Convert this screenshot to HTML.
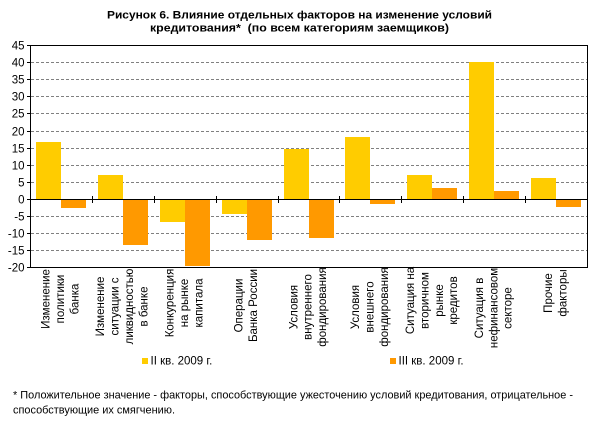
<!DOCTYPE html>
<html><head><meta charset="utf-8"><style>
html,body{margin:0;padding:0;background:#fff;}
svg{display:block;}
text{font-family:"Liberation Sans",Arial,sans-serif;fill:#000;}
</style></head><body>
<svg width="601" height="427" viewBox="0 0 601 427" xmlns="http://www.w3.org/2000/svg">
<rect x="0" y="0" width="601" height="427" fill="#fff"/>
<!-- title -->
<text x="299.5" y="18.5" font-size="11" font-weight="bold" text-anchor="middle" textLength="385" lengthAdjust="spacingAndGlyphs">Рисунок 6. Влияние отдельных факторов на изменение условий</text>
<text x="299.5" y="31.7" font-size="11" font-weight="bold" text-anchor="middle" textLength="299" lengthAdjust="spacingAndGlyphs">кредитования*&#160; (по всем категориям заемщиков)</text>

<!-- gridlines -->
<g stroke="#808080" stroke-width="1" stroke-dasharray="3,2">
<line x1="31" y1="62.5" x2="587" y2="62.5"/>
<line x1="31" y1="79.5" x2="587" y2="79.5"/>
<line x1="31" y1="96.5" x2="587" y2="96.5"/>
<line x1="31" y1="113.5" x2="587" y2="113.5"/>
<line x1="31" y1="131.5" x2="587" y2="131.5"/>
<line x1="31" y1="148.5" x2="587" y2="148.5"/>
<line x1="31" y1="165.5" x2="587" y2="165.5"/>
<line x1="31" y1="182.5" x2="587" y2="182.5"/>
<line x1="31" y1="216.5" x2="587" y2="216.5"/>
<line x1="31" y1="233.5" x2="587" y2="233.5"/>
<line x1="31" y1="250.5" x2="587" y2="250.5"/>
</g>

<!-- bars II kv -->
<g fill="#FFCC00">
<rect x="36" y="142" width="25" height="57.5"/>
<rect x="98" y="175" width="25" height="24.5"/>
<rect x="160" y="199.5" width="25" height="22.5"/>
<rect x="222" y="199.5" width="25" height="14.5"/>
<rect x="284" y="149" width="25" height="50.5"/>
<rect x="345" y="137" width="25" height="62.5"/>
<rect x="407" y="175" width="25" height="24.5"/>
<rect x="469" y="62" width="25" height="137.5"/>
<rect x="531" y="178" width="25" height="21.5"/>
</g>
<!-- bars III kv -->
<g fill="#FF9900">
<rect x="61" y="199.5" width="25" height="8.5"/>
<rect x="123" y="199.5" width="25" height="45.5"/>
<rect x="185" y="199.5" width="25" height="66.5"/>
<rect x="247" y="199.5" width="25" height="40.5"/>
<rect x="309" y="199.5" width="25" height="38.5"/>
<rect x="370" y="199.5" width="25" height="4.5"/>
<rect x="432" y="188" width="25" height="11.5"/>
<rect x="494" y="191" width="25" height="8.5"/>
<rect x="556" y="199.5" width="25" height="7.5"/>
</g>

<!-- plot border -->
<rect x="30.5" y="45.5" width="557" height="222" fill="none" stroke="#000" stroke-width="1"/>
<!-- zero line -->
<line x1="27" y1="199.5" x2="587" y2="199.5" stroke="#000" stroke-width="1"/>
<!-- category ticks -->
<g stroke="#000" stroke-width="1">
<line x1="92.5" y1="196" x2="92.5" y2="203"/>
<line x1="154.5" y1="196" x2="154.5" y2="203"/>
<line x1="216.5" y1="196" x2="216.5" y2="203"/>
<line x1="278.5" y1="196" x2="278.5" y2="203"/>
<line x1="339.5" y1="196" x2="339.5" y2="203"/>
<line x1="401.5" y1="196" x2="401.5" y2="203"/>
<line x1="463.5" y1="196" x2="463.5" y2="203"/>
<line x1="525.5" y1="196" x2="525.5" y2="203"/>
</g>
<!-- y ticks -->
<g stroke="#000" stroke-width="1">
<line x1="27" y1="45.5" x2="31" y2="45.5"/>
<line x1="27" y1="62.5" x2="31" y2="62.5"/>
<line x1="27" y1="79.5" x2="31" y2="79.5"/>
<line x1="27" y1="96.5" x2="31" y2="96.5"/>
<line x1="27" y1="113.5" x2="31" y2="113.5"/>
<line x1="27" y1="131.5" x2="31" y2="131.5"/>
<line x1="27" y1="148.5" x2="31" y2="148.5"/>
<line x1="27" y1="165.5" x2="31" y2="165.5"/>
<line x1="27" y1="182.5" x2="31" y2="182.5"/>
<line x1="27" y1="216.5" x2="31" y2="216.5"/>
<line x1="27" y1="233.5" x2="31" y2="233.5"/>
<line x1="27" y1="250.5" x2="31" y2="250.5"/>
<line x1="27" y1="267.5" x2="31" y2="267.5"/>
</g>
<!-- y labels -->
<g font-size="11.5" text-anchor="end">
<text x="24.5" y="49.5">45</text>
<text x="24.5" y="66.5">40</text>
<text x="24.5" y="83.5">35</text>
<text x="24.5" y="100.5">30</text>
<text x="24.5" y="117.5">25</text>
<text x="24.5" y="135.5">20</text>
<text x="24.5" y="152.5">15</text>
<text x="24.5" y="169.5">10</text>
<text x="24.5" y="186.5">5</text>
<text x="24.5" y="203.5">0</text>
<text x="24.5" y="220.5">-5</text>
<text x="24.5" y="237.5">-10</text>
<text x="24.5" y="254.5">-15</text>
<text x="24.5" y="271.5">-20</text>
</g>

<!-- category labels (rotated) -->
<g font-size="11.5" text-anchor="middle">
<!-- cat 1 center 60.9 -->
<text transform="translate(49.6,299) rotate(-90)">Изменение</text>
<text transform="translate(64,299) rotate(-90)">политики</text>
<text transform="translate(78.4,299) rotate(-90)">банка</text>
<!-- cat 2 center 122.8 -->
<text transform="translate(104.1,306.5) rotate(-90)">Изменение</text>
<text transform="translate(118.5,306.5) rotate(-90)">ситуации с</text>
<text transform="translate(132.9,306.5) rotate(-90)">ликвидностью</text>
<text transform="translate(147.3,306.5) rotate(-90)">в банке</text>
<!-- cat 3 center 184.7 -->
<text transform="translate(173.5,303) rotate(-90)">Конкуренция</text>
<text transform="translate(187.9,303) rotate(-90)">на рынке</text>
<text transform="translate(202.3,303) rotate(-90)">капитала</text>
<!-- cat 4 center 246.6 -->
<text transform="translate(242.6,305.5) rotate(-90)">Операции</text>
<text transform="translate(257,305.5) rotate(-90)">Банка России</text>
<!-- cat 5 center 308.5 -->
<text transform="translate(297.3,307) rotate(-90)">Условия</text>
<text transform="translate(311.7,307) rotate(-90)">внутреннего</text>
<text transform="translate(326.1,307) rotate(-90)">фондирования</text>
<!-- cat 6 center 370.4 -->
<text transform="translate(359.2,307) rotate(-90)">Условия</text>
<text transform="translate(373.6,307) rotate(-90)">внешнего</text>
<text transform="translate(388,307) rotate(-90)">фондирования</text>
<!-- cat 7 center 432.3 -->
<text transform="translate(414,300.5) rotate(-90)">Ситуация на</text>
<text transform="translate(428.4,300.5) rotate(-90)">вторичном</text>
<text transform="translate(442.8,300.5) rotate(-90)">рынке</text>
<text transform="translate(457.2,300.5) rotate(-90)">кредитов</text>
<!-- cat 8 center 494.1 -->
<text transform="translate(482.9,308) rotate(-90)">Ситуация в</text>
<text transform="translate(497.3,308) rotate(-90)">нефинансовом</text>
<text transform="translate(511.7,308) rotate(-90)">секторе</text>
<!-- cat 9 center 556 -->
<text transform="translate(552,293) rotate(-90)">Прочие</text>
<text transform="translate(566.4,293) rotate(-90)">факторы</text>
</g>

<!-- legend -->
<rect x="142" y="358" width="6" height="6" fill="#FFCC00"/>
<text x="150.5" y="364.5" font-size="11.5">II кв. 2009 г.</text>
<rect x="390" y="358" width="6" height="6" fill="#FF9900"/>
<text x="398.5" y="364.5" font-size="11.5">III кв. 2009 г.</text>

<!-- footnote -->
<text x="13" y="398.5" font-size="11" textLength="560" lengthAdjust="spacingAndGlyphs">* Положительное значение - факторы, способствующие ужесточению условий кредитования, отрицательное -</text>
<text x="13" y="413.5" font-size="11" textLength="162" lengthAdjust="spacingAndGlyphs">способствующие их смягчению.</text>
</svg>
</body></html>
